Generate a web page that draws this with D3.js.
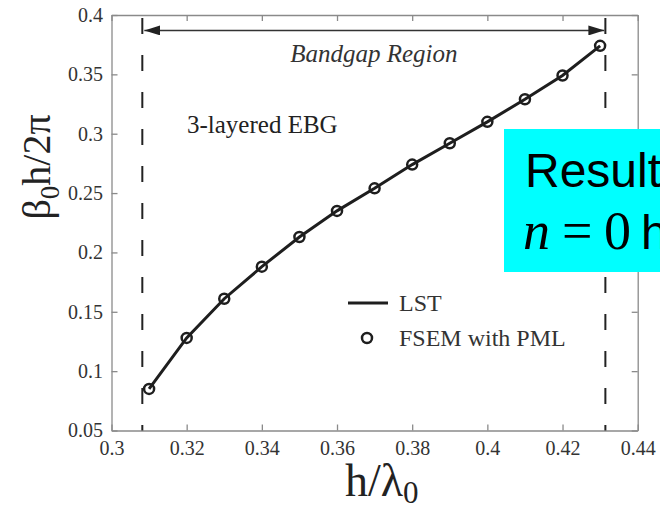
<!DOCTYPE html>
<html>
<head>
<meta charset="utf-8">
<script src="https://cdn.jsdelivr.net/npm/d3@7/dist/d3.min.js"></script>
<style>
    html, body { margin: 0; padding: 0; background: #fff; }
    svg { display: block; }
    .axis text { font-family: "Liberation Serif", "Times New Roman", serif; font-size: 20px; fill: #333; }
    .axis path, .axis line { stroke: #8a8a8a; stroke-width: 1.3; }
</style>
</head>
<body>
<div id="chart"></div>
<script>
// Data
const xTicks = [0.3, 0.32, 0.34, 0.36, 0.38, 0.4, 0.42, 0.44];
const yTicks = [0.05, 0.1, 0.15, 0.2, 0.25, 0.3, 0.35, 0.4];
const hOverLambda = [0.31, 0.32, 0.33, 0.34, 0.35, 0.36, 0.37, 0.38, 0.39, 0.40, 0.41, 0.42, 0.43];
const betaH = [0.085, 0.128, 0.161, 0.188, 0.213, 0.235, 0.254, 0.274, 0.292, 0.310, 0.329, 0.349, 0.374];
const bandEdges = [0.3082, 0.4314];
const arrowLevel = 0.387;
const legendLabels = ['LST', 'FSEM with PML'];

// Layout
const width = 660, height = 511;
const margin = {top: 15, right: 22.3, bottom: 80.5, left: 111.5};

const svg = d3.select('#chart').append('svg')
    .attr('width', width)
    .attr('height', height);

const x = d3.scaleLinear()
    .domain([0.3, 0.44])
    .range([margin.left, width - margin.right]);
const y = d3.scaleLinear()
    .domain([0.05, 0.4])
    .range([height - margin.bottom, margin.top]);

const fmt = d => String(+d.toFixed(2));

// axes (ticks pointing inward, box on all four sides)
svg.append('g').attr('class', 'axis')
    .attr('transform', `translate(0,${y(0.05)})`)
    .call(d3.axisBottom(x).tickValues(xTicks).tickFormat(fmt).tickSizeInner(-6).tickSizeOuter(0).tickPadding(10));
svg.append('g').attr('class', 'axis')
    .attr('transform', `translate(0,${y(0.4)})`)
    .call(d3.axisTop(x).tickValues(xTicks).tickFormat('').tickSizeInner(-6).tickSizeOuter(0));
svg.append('g').attr('class', 'axis')
    .attr('transform', `translate(${x(0.3)},0)`)
    .call(d3.axisLeft(y).tickValues(yTicks).tickFormat(fmt).tickSizeInner(-6).tickSizeOuter(0).tickPadding(8.5));
svg.append('g').attr('class', 'axis')
    .attr('transform', `translate(${x(0.44)},0)`)
    .call(d3.axisRight(y).tickValues(yTicks).tickFormat('').tickSizeInner(-6).tickSizeOuter(0));
svg.selectAll('.axis .domain').attr('stroke', '#8a8a8a');

// bandgap edges
svg.selectAll('line.edge')
    .data(bandEdges)
    .join('line')
    .attr('class', 'edge')
    .attr('x1', d => x(d)).attr('x2', d => x(d))
    .attr('y1', y(0.4) + 3).attr('y2', y(0.05))
    .attr('stroke', '#222')
    .attr('stroke-width', 2)
    .attr('stroke-dasharray', '16,21');

// double arrow
const defs = svg.append('defs');
defs.append('marker')
    .attr('id', 'arrow')
    .attr('viewBox', '0 0 16 10')
    .attr('refX', 16).attr('refY', 5)
    .attr('markerWidth', 16).attr('markerHeight', 10)
    .attr('markerUnits', 'userSpaceOnUse')
    .attr('orient', 'auto-start-reverse')
    .append('path')
    .attr('d', 'M0,0L16,5L0,10Z')
    .attr('fill', '#222');

svg.append('line')
    .attr('x1', x(bandEdges[0]) + 2).attr('x2', x(bandEdges[1]) - 1)
    .attr('y1', y(arrowLevel)).attr('y2', y(arrowLevel))
    .attr('stroke', '#333')
    .attr('stroke-width', 1.5)
    .attr('marker-start', 'url(#arrow)')
    .attr('marker-end', 'url(#arrow)');

svg.append('text')
    .attr('x', (x(bandEdges[0]) + x(bandEdges[1])) / 2)
    .attr('y', 62)
    .attr('text-anchor', 'middle')
    .style('font-family', '"Liberation Serif", serif')
    .style('font-style', 'italic')
    .style('font-size', '25px')
    .style('fill', '#333')
    .text('Bandgap Region');

svg.append('text')
    .attr('x', 187)
    .attr('y', 133)
    .style('font-family', '"Liberation Serif", serif')
    .style('font-size', '25px')
    .style('fill', '#222')
    .text('3-layered EBG');

// data
const pts = hOverLambda.map((h, i) => [h, betaH[i]]);
svg.append('path')
    .datum(pts)
    .attr('fill', 'none')
    .attr('stroke', '#1e1e1e')
    .attr('stroke-width', 3)
    .attr('d', d3.line().x(d => x(d[0])).y(d => y(d[1])));

svg.selectAll('circle.pt')
    .data(pts)
    .join('circle')
    .attr('class', 'pt')
    .attr('cx', d => x(d[0]))
    .attr('cy', d => y(d[1]))
    .attr('r', 5)
    .attr('fill', 'none')
    .attr('stroke', '#1e1e1e')
    .attr('stroke-width', 2.5);

// legend
const legend = svg.append('g').attr('transform', 'translate(348,303)');
legend.append('line')
    .attr('x1', 0).attr('x2', 40)
    .attr('stroke', '#1e1e1e').attr('stroke-width', 3);
legend.append('circle')
    .attr('cx', 19).attr('cy', 35).attr('r', 5)
    .attr('fill', 'none').attr('stroke', '#1e1e1e').attr('stroke-width', 2.5);
legend.selectAll('text')
    .data(legendLabels)
    .join('text')
    .attr('x', 51)
    .attr('y', (d, i) => 8 + i * 35)
    .style('font-family', '"Liberation Serif", serif')
    .style('font-size', '24px')
    .style('fill', '#333')
    .text(d => d);

// axis titles
const xt = svg.append('text')
    .attr('x', 345).attr('y', 496)
    .style('font-family', '"Liberation Serif", serif')
    .style('font-size', '46px')
    .style('fill', '#222');
xt.append('tspan').text('h/\u03bb');
xt.append('tspan').attr('dy', 7).style('font-size', '31px').text('0');

const yt = svg.append('text')
    .attr('transform', 'translate(50,167) rotate(-90)')
    .attr('text-anchor', 'middle')
    .style('font-family', '"Liberation Serif", serif')
    .style('font-size', '40px')
    .style('fill', '#222');
yt.append('tspan').text('\u03b2');
yt.append('tspan').attr('dy', 9).style('font-size', '27px').text('0');
yt.append('tspan').attr('dy', -9).text('h/2\u03c0');

// cyan overlay box
svg.append('rect')
    .attr('x', 504).attr('y', 129)
    .attr('width', 160).attr('height', 143)
    .attr('fill', '#00ffff');
svg.append('text')
    .attr('x', 525).attr('y', 187)
    .style('font-family', '"Liberation Sans", Arial, sans-serif')
    .style('font-size', '48px')
    .style('fill', '#000')
    .text('Result');
const nt = svg.append('text')
    .attr('x', 523).attr('y', 249)
    .style('font-family', '"Liberation Serif", serif')
    .style('font-size', '54px')
    .style('fill', '#000');
nt.append('tspan').style('font-style', 'italic').text('n');
nt.append('tspan').attr('x', 562).text('=');
nt.append('tspan').attr('x', 604).text('0');
nt.append('tspan').attr('x', 641)
    .style('font-family', '"Liberation Sans", Arial, sans-serif')
    .style('font-size', '48px')
    .text('h');
</script>
</body>
</html>
